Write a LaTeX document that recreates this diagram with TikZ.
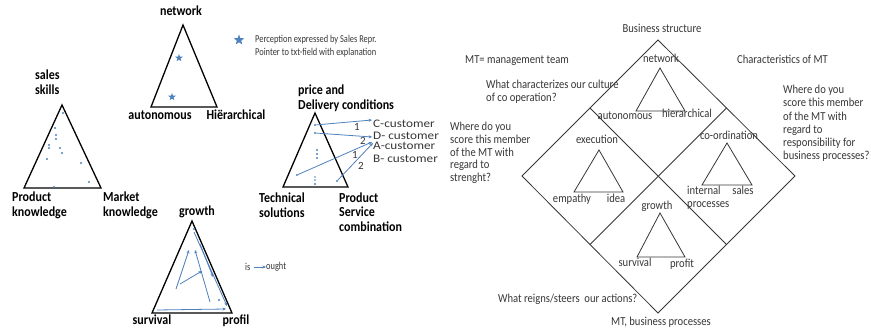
\documentclass[tikz,border=0pt]{standalone}
\usepackage{fontspec}
\setmainfont{Carlito}
\usetikzlibrary{shapes.geometric,arrows.meta}
\definecolor{ptblue}{RGB}{79,129,189}
\definecolor{rgray}{RGB}{55,55,55}
\newcommand\vtx[1]{\scalebox{1}[1.15]{\begin{tabular}{@{}l@{}}#1\end{tabular}}}
\newcommand\ctx[2]{\scalebox{#1}[1.05]{#2}}
\begin{document}
\begin{tikzpicture}[x=1pt,y=-1pt,
  lbl/.style={font=\fontsize{12}{12.6}\selectfont\bfseries, inner sep=0pt, text=black},
  rtxt/.style={font=\fontsize{10.6}{11.3}\selectfont, inner sep=0pt, text=rgray},
  legt/.style={font=\fontsize{8.4}{10}\selectfont, inner sep=0pt, text=rgray},
  custt/.style={font=\fontsize{11}{12}\selectfont, inner sep=0pt, text=rgray},
  tri/.style={draw=black, line width=1.3pt, line join=miter},
  rline/.style={draw=rgray, line width=0.8pt},
  dotm/.style={circle, fill=ptblue, inner sep=0pt, minimum size=2.2pt},
  parr/.style={draw=ptblue, line width=0.8pt, -{Stealth[length=3.5pt,width=3pt]}},
  starm/.style={star, star points=5, star point ratio=2.4, fill=ptblue, draw=none, inner sep=0pt, minimum size=8pt},
]
\useasboundingbox[fill=white] (0,0) rectangle (871,331);

% ---------- network triangle ----------
\coordinate (na) at (183,25);
\coordinate (nb) at (151,107);
\coordinate (nc) at (217,107);
\draw[tri] (na)--(nb)--(nc)--cycle;
\node[lbl] (netl) at (181,13) {\vtx{network}};
\node[lbl] (autl) at (160,117) {\vtx{autonomous}};
\node[lbl] (hierl) at (236,117) {\vtx{Hiërarchical}};
\node[starm] (s1) at (179,58) {};
\node[starm] (s2) at (172,97) {};

% legend
\node[starm, minimum size=11pt] (lstar) at (239,40) {};
\node[legt, anchor=west] (leg1) at (255,40) {\scalebox{1}[1.25]{Perception expressed by Sales Repr.}};
\node[legt, anchor=west] (leg2) at (255,53) {\scalebox{1}[1.25]{Pointer to txt-field with explanation}};

% ---------- sales triangle ----------
\coordinate (sa) at (62,105);
\coordinate (sb) at (24,188);
\coordinate (sc) at (101,188);
\draw[tri] (sa)--(sb)--(sc)--cycle;
\node[lbl, anchor=west] (salesl) at (35,84) {\vtx{sales\\skills}};
\node[lbl, anchor=west] (prodkl) at (12,206) {\vtx{Product\\knowledge}};
\node[lbl, anchor=west] (markl) at (103,206) {\vtx{Market\\knowledge}};
\foreach \i/\p in {1/{(63,113)},2/{(55,128)},3/{(56,135)},4/{(56,139)},5/{(49,145)},6/{(60,148)},7/{(62,153)},8/{(47,159)},9/{(81,163)},10/{(54,187)},11/{(89,182)},12/{(49,148)}}
  \node[dotm] (sd\i) at \p {};

% ---------- price triangle ----------
\coordinate (pa) at (315,113);
\coordinate (pb) at (283,187);
\coordinate (pc) at (348,187);
\draw[tri] (pa)--(pb)--(pc)--cycle;
\node[lbl, anchor=west] (pricel) at (298,99) {\vtx{price and\\Delivery conditions}};
\node[lbl, anchor=west] (techl) at (259,207) {\vtx{Technical\\solutions}};
\node[lbl, anchor=west] (psl) at (339,214) {\vtx{Product\\Service\\combination}};
\node[custt, anchor=west] (cc) at (373,124) {\ctx{1.2}{C-customer}};
\node[custt, anchor=west] (dc) at (373,136) {\ctx{1.2}{D- customer}};
\node[custt, anchor=west] (ac) at (373,146) {\ctx{1.2}{A-customer}};
\node[custt, anchor=west] (bc) at (373,159) {\ctx{1.2}{B- customer}};
\node[custt] (n1a) at (357,127) {1};
\node[custt] (n2a) at (363,141) {2};
\node[custt] (n1b) at (355,155) {1};
\node[custt] (n2b) at (361,166) {2};
\node[dotm] (p1) at (315,125) {};
\node[dotm] (p2) at (315,133) {};
\node[dotm] (p3) at (297,175) {};
\node[dotm] (p4) at (337,181) {};
\node[dotm] (p5) at (317,150) {};
\node[dotm] (p6) at (317,154) {};
\node[dotm] (p7) at (317,158) {};
\node[dotm, minimum size=1.6pt] (p8) at (315,177) {};
\node[dotm, minimum size=1.6pt] (p9) at (315,180) {};
\node[dotm] (p10) at (315,184) {};
\coordinate (ce) at (372,120);
\coordinate (de) at (372,137);
\coordinate (ae1) at (372,142);
\coordinate (ae2) at (373,143);
\draw[parr] (p1) -- (ce);
\draw[parr] (p2) -- (de);
\draw[parr] (p3) -- (ae1);
\draw[parr] (p4) -- (ae2);

% ---------- growth triangle ----------
\coordinate (ga) at (192,221);
\coordinate (gb) at (152,313);
\coordinate (gc) at (232,313);
\draw[tri] (ga)--(gb)--(gc)--cycle;
\node[lbl] (growl) at (197,213) {\vtx{growth}};
\node[lbl] (survl) at (152,322) {\vtx{survival}};
\node[lbl] (profl) at (236,322) {\vtx{profil}};
\coordinate (g1s) at (157,310); \coordinate (g1e) at (226,309);
\coordinate (g2s) at (176,289); \coordinate (g2e) at (189,250);
\coordinate (g3s) at (180,284); \coordinate (g3e) at (202,271);
\coordinate (g4s) at (210,302); \coordinate (g4e) at (195,250);
\coordinate (g5s) at (194,232); \coordinate (g5e) at (227,306);
\coordinate (g6s) at (200,244); \coordinate (g6e) at (213,277);
\draw[parr] (g1s) -- (g1e);
\draw[parr] (g2s) -- (g2e);
\draw[parr] (g3s) -- (g3e);
\draw[parr] (g4s) -- (g4e);
\draw[parr] (g5s) -- (g5e);
\draw[parr] (g6s) -- (g6e);
\node[dotm] (gd1) at (194,229) {};
\node[dotm] (gd2) at (219,300) {};
% is -> ought
\node[legt, anchor=west] (isl) at (245,267) {\scalebox{1}[1.25]{is}};
\node[legt, anchor=west] (oughtl) at (266,267) {\scalebox{1}[1.25]{ought}};
\draw[parr, line width=0.7pt] (isl.east) ++(3,0) coordinate (isx) -- (oughtl.west);

% ---------- right diamond ----------
\coordinate (dt) at (658,40);
\coordinate (dr) at (795,176);
\coordinate (db) at (658,313);
\coordinate (dl) at (522,176);
\draw[rline] (dt)--(dr)--(db)--(dl)--cycle;
\coordinate (mtl) at (590,108);
\coordinate (mtr) at (726.5,108);
\coordinate (mbl) at (590,244.5);
\coordinate (mbr) at (726.5,244.5);
\draw[rline] (mtl) -- (mbr);
\draw[rline] (mtr) -- (mbl);

% sub triangles
\coordinate (t1a) at (660,68); \coordinate (t1b) at (636,111); \coordinate (t1c) at (685,111);
\coordinate (t2a) at (599,150); \coordinate (t2b) at (574,192); \coordinate (t2c) at (623,192);
\coordinate (t3a) at (727,143); \coordinate (t3b) at (702,185); \coordinate (t3c) at (752,185);
\coordinate (t4a) at (660,213); \coordinate (t4b) at (637,257); \coordinate (t4c) at (685,257);
\draw[rline] (t1a)--(t1b)--(t1c)--cycle;
\draw[rline] (t2a)--(t2b)--(t2c)--cycle;
\draw[rline] (t3a)--(t3b)--(t3c)--cycle;
\draw[rline] (t4a)--(t4b)--(t4c)--cycle;

% diamond texts
\node[rtxt] (bsl) at (662,30) {\vtx{Business structure}};
\node[rtxt] (mtbp) at (661,323) {\vtx{MT, business processes}};
\node[rtxt, anchor=west] (mtdef) at (465,61) {\vtx{MT= management team}};
\node[rtxt, anchor=west] (charl) at (737,61) {\vtx{Characteristics of MT}};
\node[rtxt, anchor=west] (cult) at (486,92.5) {\vtx{What characterizes our culture\\of co operation?}};
\node[rtxt, anchor=west, font=\fontsize{10.6}{11.04}\selectfont] (strq) at (450,153.5) {\vtx{Where do you\\score this member\\of the MT with\\regard to\\strenght?}};
\node[rtxt, anchor=west, font=\fontsize{10.6}{11.48}\selectfont] (respq) at (783,124) {\vtx{Where do you\\score this member\\of the MT with\\regard to\\responsibility for\\business processes?}};
\node[rtxt, anchor=west] (reign) at (498,300) {\vtx{What reigns/steers\ \ our actions?}};

\node[rtxt] (rnet) at (661,60) {\vtx{network}};
\node[rtxt] (raut) at (625,117) {\vtx{autonomous}};
\node[rtxt] (rhier) at (687,115) {\vtx{hierarchical}};
\node[rtxt] (rexe) at (597,141) {\vtx{execution}};
\node[rtxt] (remp) at (572,200) {\vtx{empathy}};
\node[rtxt] (ridea) at (616,200) {\vtx{idea}};
\node[rtxt] (rcoo) at (729,137) {\vtx{co-ordination}};
\node[rtxt, anchor=west] (rint) at (687,198.5) {\vtx{internal\\processes}};
\node[rtxt] (rsales) at (743,192) {\vtx{sales}};
\node[rtxt] (rgro) at (657,207) {\vtx{growth}};
\node[rtxt] (rsurv) at (635,264) {\vtx{survival}};
\node[rtxt] (rprof) at (682,265) {\vtx{profit}};
\end{tikzpicture}
\end{document}
